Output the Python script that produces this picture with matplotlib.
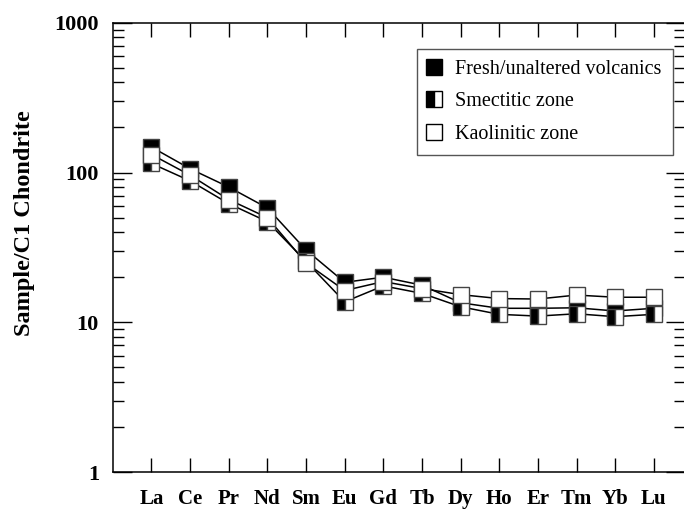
import numpy as np
import matplotlib.pyplot as plt
from matplotlib.lines import Line2D
from matplotlib.ticker import LogLocator, NullFormatter, FixedLocator, FixedFormatter

# REE order and chondrite-normalised values
ree = ['La', 'Ce', 'Pr', 'Nd', 'Sm', 'Eu', 'Gd', 'Tb', 'Dy', 'Ho', 'Er', 'Tm', 'Yb', 'Lu']
fresh = [148, 106, 80, 58, 30.4, 18.5, 20.0, 17.7, 13.5, 12.4, 12.4, 12.5, 11.9, 12.4]
smectitic = [115, 88, 62, 47, 25.5, 13.7, 17.5, 15.6, 12.7, 11.3, 11.0, 11.4, 10.9, 11.3]
kaolinitic = [132, 96, 66, 50, 24.9, 16.3, 18.7, 16.8, 15.3, 14.4, 14.3, 15.2, 14.7, 14.7]
labels = ['Fresh/unaltered volcanics', 'Smectitic zone', 'Kaolinitic zone']

plt.rcParams['font.family'] = ['Liberation Serif', 'DejaVu Serif']

fig = plt.figure(figsize=(6.84, 5.11), dpi=100)
ax = fig.add_axes([0.165, 0.0763, 0.836, 0.879])

x = np.arange(1, len(ree) + 1)
edge = '#444444'
ms = 12

# lines first, markers on top
for y in (fresh, smectitic, kaolinitic):
    ax.plot(x, y, '-', color='black', lw=1.1, zorder=2)

ax.plot(x, fresh, ls='none', marker='s', ms=ms, mfc='black', mec=edge, mew=1, zorder=3)
ax.plot(x, smectitic, ls='none', marker='s', ms=ms, fillstyle='left', mfc='black',
        mfcalt='white', mec=edge, mew=1, zorder=4)
ax.plot(x, kaolinitic, ls='none', marker='s', ms=ms, mfc='white', mec=edge, mew=1, zorder=5)

ax.set_yscale('log')
ax.set_ylim(1, 1000)
ax.set_xlim(0, 14.8)

ax.xaxis.set_major_locator(FixedLocator(x))
ax.xaxis.set_major_formatter(FixedFormatter(ree))
ax.yaxis.set_minor_locator(LogLocator(base=10, subs=np.arange(2, 10), numticks=10))
ax.yaxis.set_minor_formatter(NullFormatter())
ax.set_yticks([1, 10, 100, 1000])
ax.set_yticklabels(['1', '10', '100', '1000'])

ax.tick_params(axis='both', which='both', direction='in', top=True, right=True, width=1)
ax.tick_params(axis='y', which='major', length=14, labelsize=16, pad=10)
ax.tick_params(axis='y', which='minor', length=8)
ax.tick_params(axis='x', which='major', length=10, labelsize=15, pad=12)
for lab in ax.get_xticklabels() + ax.get_yticklabels():
    lab.set_fontweight('bold')

for s in ax.spines.values():
    s.set_linewidth(1.1)

ax.set_ylabel('Sample/C1 Chondrite', fontsize=17.5, fontweight='bold', va='center')
ax.yaxis.set_label_coords(-88 / 571, 0.554)

handles = [
    Line2D([], [], ls='none', marker='s', ms=11, mfc='black', mec='black'),
    Line2D([], [], ls='none', marker='s', ms=11, fillstyle='left', mfc='black',
           mfcalt='white', mec='black'),
    Line2D([], [], ls='none', marker='s', ms=11, mfc='white', mec='black'),
]
leg = ax.legend(handles, labels, loc='upper right', bbox_to_anchor=(0.979, 0.942),
                borderaxespad=0, fancybox=False, edgecolor='#555555', fontsize=14.5,
                handlelength=0.6, handletextpad=0.75, labelspacing=0.66,
                borderpad=0.55, framealpha=1)
leg.get_frame().set_linewidth(1)

fig.savefig('out.png', dpi=100)
